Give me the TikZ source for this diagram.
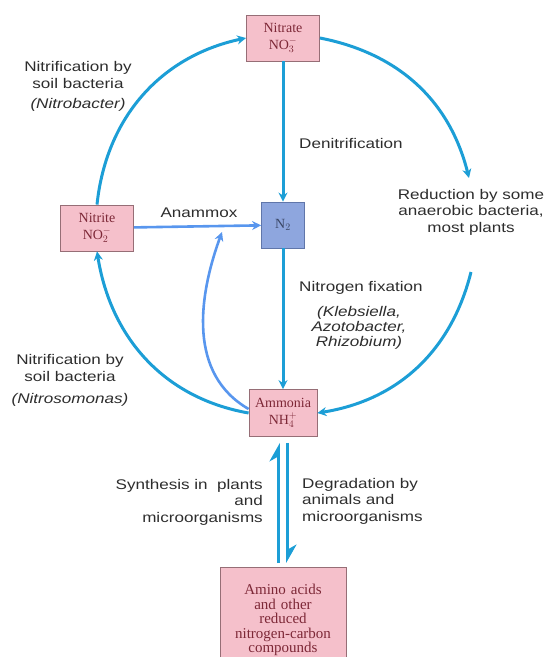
\documentclass[tikz,border=0pt]{standalone}
\usepackage{fontspec}
\setmainfont{Liberation Sans}[FakeStretch=1.22]
\newfontfamily\boxfont{Liberation Serif}
\usetikzlibrary{arrows.meta,positioning}

\definecolor{cyclecol}{RGB}{28,158,214}
\definecolor{anamcol}{RGB}{88,150,238}
\definecolor{boxpink}{RGB}{245,192,203}
\definecolor{boxedge}{RGB}{150,110,118}
\definecolor{gasfill}{RGB}{142,166,222}
\definecolor{gasedge}{RGB}{96,118,170}
\definecolor{boxtext}{RGB}{125,40,55}
\definecolor{notetext}{RGB}{45,45,45}

\begin{document}
\begin{tikzpicture}[
  x=1pt, y=1pt,
  >={Stealth[length=9pt,width=9pt]},
  cyclearrow/.style={->, line width=3pt, draw=cyclecol},
  anamarrow/.style={->, line width=2.6pt, draw=anamcol},
  harp/.style={-{Stealth[harpoon,length=16pt,width=18pt,inset=5pt]}, line width=3pt, draw=cyclecol},
  species/.style={
    rectangle,
    draw=boxedge,
    fill=boxpink,
    line width=0.8pt,
    minimum width=73pt,
    minimum height=46pt,
    align=center,
    text=boxtext,
    font=\boxfont\fontsize{14}{17}\selectfont
  },
  gas/.style={species, fill=gasfill, draw=gasedge, minimum width=43pt, text=gasedge!60!black},
  note/.style={font=\fontsize{14}{16.5}\selectfont, text=notetext, align=center, inner sep=1pt},
  genus/.style={note, font=\fontsize{14}{15}\selectfont\itshape}
]
  \clip (0,0) rectangle (547,-657);

  % compounds
  \node[species] (nitrate) at (283,-38) {Nitrate\\NO$_3^-$};
  \node[species] (nitrite) at (97,-228) {Nitrite\\NO$_2^-$};
  \node[gas] (n2) at (283,-225) {N$_2$};
  \node[species, minimum width=68pt, minimum height=47pt] (ammonia) at (283,-413) {Ammonia\\NH$_4^+$};
  \node[species, anchor=north, text width=116pt, inner xsep=5pt, inner ysep=17pt,
        font=\boxfont\fontsize{15}{14.5}\selectfont] (amino) at (283,-567)
    {Amino acids\\and other\\reduced\\nitrogen-carbon\\compounds};

  \coordinate (redtip) at (469,-178);
  \coordinate (redstart) at (471,-272);
  \coordinate (anamjoin) at (222,-232);

  % the cycle
  \draw[cyclearrow] (nitrite.north) to[out=84,in=192] (nitrate.west);
  \draw[cyclearrow] (nitrate.east) to[out=-11,in=104] (redtip);
  \draw[cyclearrow] (redstart) to[out=-104,in=9] (ammonia.east);
  \draw[cyclearrow] (ammonia.west) to[out=170,in=-81] (nitrite.south);
  \draw[cyclearrow] (nitrate) -- (n2);
  \draw[cyclearrow] (n2) -- (ammonia);
  \draw[anamarrow] (nitrite) -- (n2);
  \draw[anamarrow] ([yshift=4pt]ammonia.west) to[out=150,in=-110] (anamjoin);

  \draw[harp, shorten <=4pt, shorten >=6pt] ([xshift=-4.5pt]amino.north) -- ([xshift=-4.5pt]ammonia.south);
  \draw[harp, shorten <=6pt, shorten >=4pt] ([xshift=4.5pt]ammonia.south) -- ([xshift=4.5pt]amino.north);

  % labels
  \node[note] (nitrobacter) at (78,-75) {Nitrification by\\soil bacteria};
  \node[genus] (nitrobactergenus) at (78,-105) {(Nitrobacter)};
  \node[note, anchor=west] (denit) at (298,-143) {Denitrification};
  \node[note] (anammox) at (199,-213) {Anammox};
  \node[note] (reduction) at (471,-212) {Reduction by some\\anaerobic bacteria,\\most plants};
  \node[note, anchor=west] (fixation) at (298,-288) {Nitrogen fixation};
  \node[genus] (fixers) at (359,-328) {(Klebsiella,\\Azotobacter,\\Rhizobium)};
  \node[note] (nitrosomonas) at (70,-368) {Nitrification by\\soil bacteria};
  \node[genus] (nitrosgenus) at (70,-400) {(Nitrosomonas)};
  \node[note, align=right, anchor=east] (synthesis) at (264,-502) {Synthesis in\ \ plants\\and\\microorganisms};
  \node[note, align=left, anchor=west] (degradation) at (301,-501) {Degradation by\\animals and\\microorganisms};
\end{tikzpicture}
\end{document}
